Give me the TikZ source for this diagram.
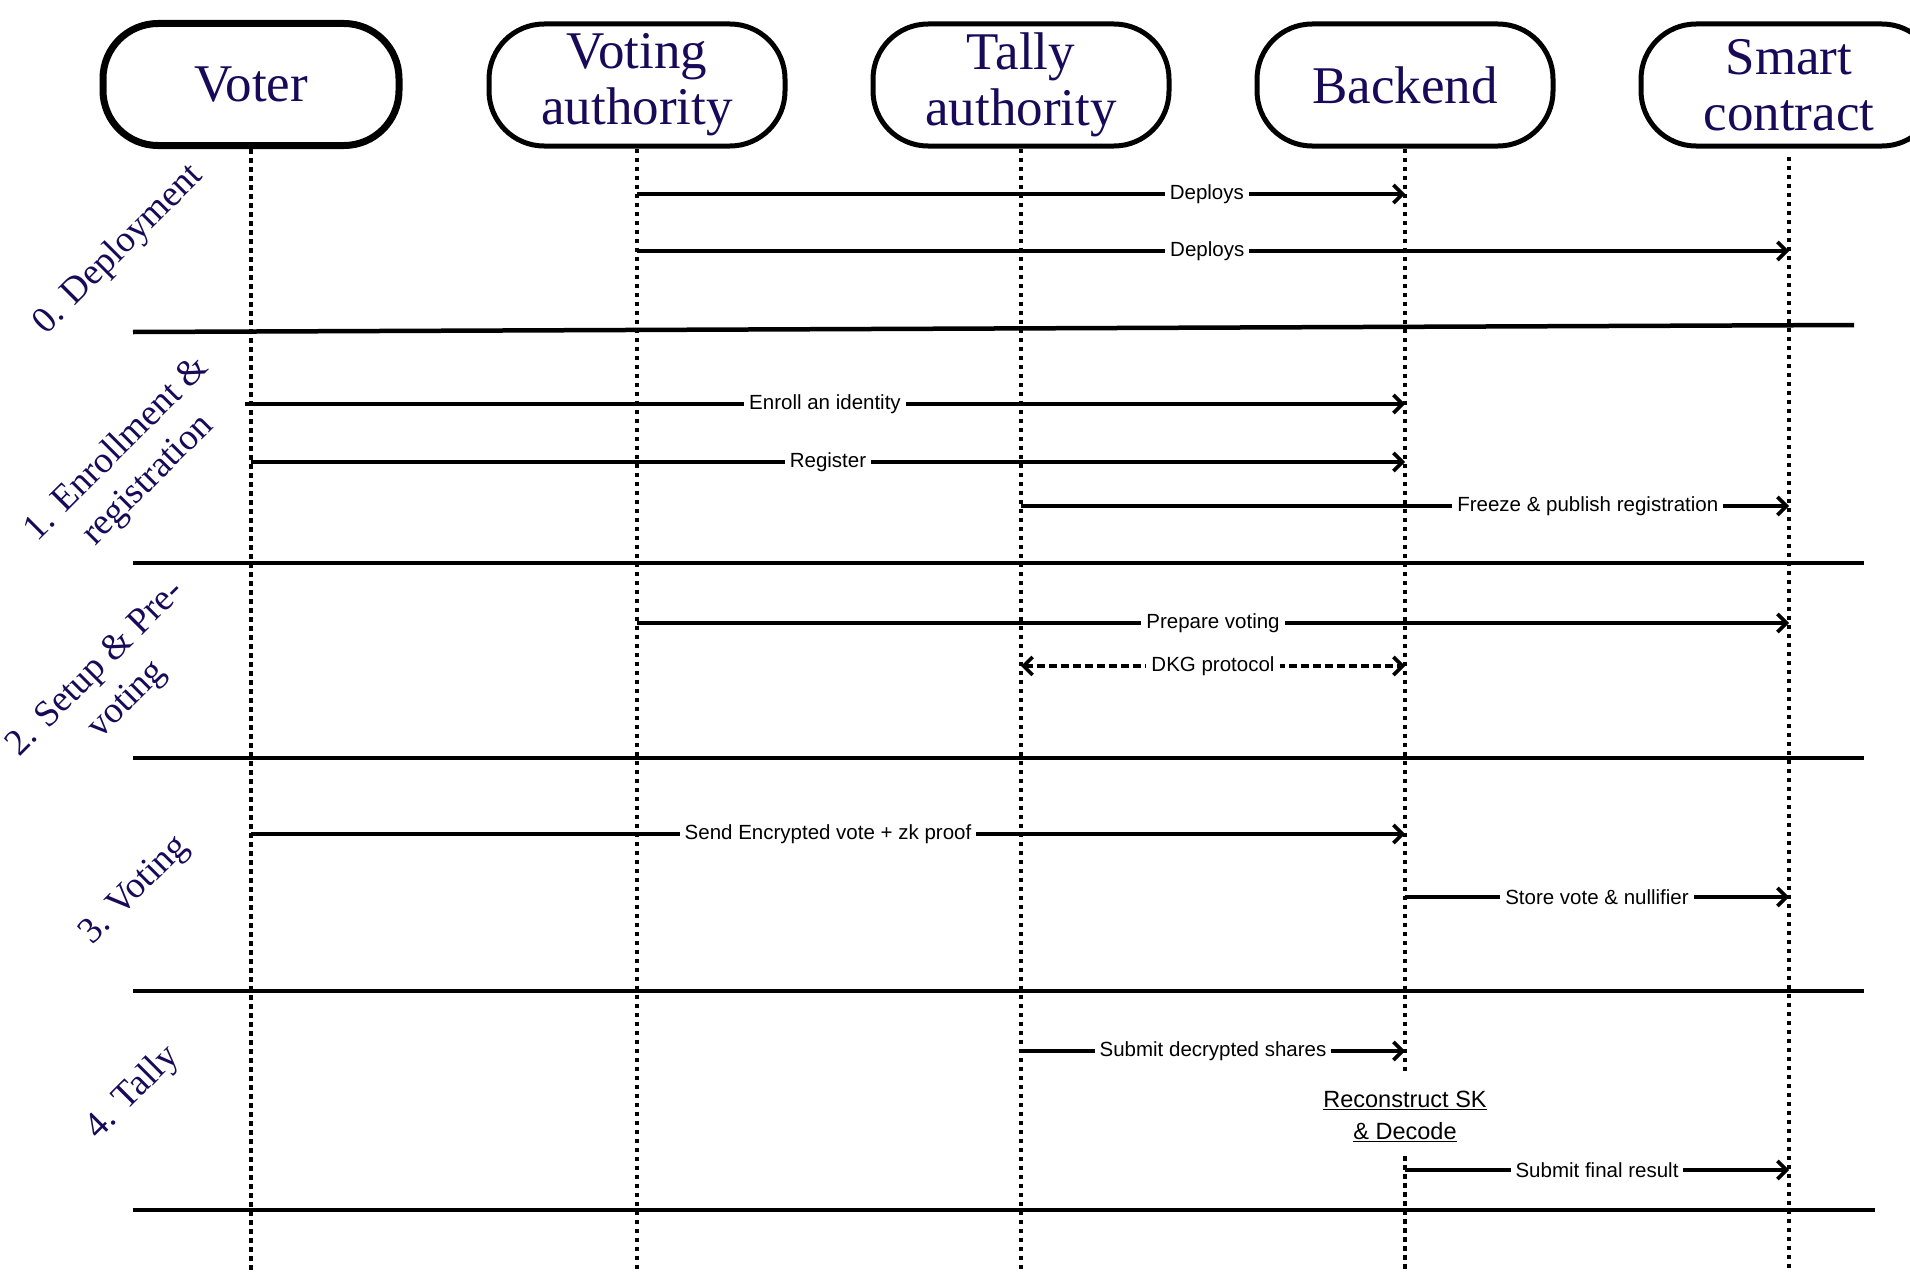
\documentclass[tikz,border=0pt]{standalone}
\usepackage{fontspec}
\setmainfont{Liberation Serif}
\setsansfont{Liberation Sans}
\usetikzlibrary{arrows.meta}
\definecolor{ink}{RGB}{24,10,88}
\tikzset{
 actor/.style={draw=black, fill=white, line width=5pt, rounded corners=55pt, minimum width=296pt, minimum height=122pt, inner sep=0pt, text=ink, font=\fontsize{53}{56}\selectfont, align=center},
 lifeline/.style={line width=3.5pt, dash pattern=on 4.5pt off 4.5pt},
 sepline/.style={line width=4.5pt},
 msg/.style={line width=3.6pt, -{Straight Barb[length=9pt,width=18pt]}},
 lbl/.style={fill=white, inner xsep=5pt, inner ysep=3pt, font=\sffamily\fontsize{20.5}{24}\selectfont, text=black},
 phase/.style={rotate=45, text=ink, font=\fontsize{37}{44}\selectfont, align=center},
}
\begin{document}
\begin{tikzpicture}[x=1pt,y=-1pt]
\useasboundingbox (0,0) rectangle (1910,1271);
\clip (0,0) rectangle (1910,1271);

% actors
\node[actor, line width=7pt] (voter) at (251,84.5) {Voter};
\node[actor] (va) at (637,85) {Voting\\authority};
\node[actor] (ta) at (1021,85) {Tally\\authority};
\node[actor] (be) at (1405,85) {Backend};
\node[actor] (sc) at (1789,85) {Smart\\contract};

% lifelines
\draw[lifeline] (voter.south) -- (voter.south |- 0,1271);
\draw[lifeline] (va.south) -- (va.south |- 0,1271);
\draw[lifeline] (ta.south) -- (ta.south |- 0,1271);
\draw[lifeline] (be.south) -- (be.south |- 0,1072);
\draw[lifeline] (be.south |- 0,1156) -- (be.south |- 0,1271);
\draw[lifeline] ([yshift=-8pt]sc.south) -- (sc.south |- 0,1271);

% phase separators
\draw[sepline] (133,332) -- (1854,325);
\draw[sepline] (133,563) -- (1864,563);
\draw[sepline] (133,758) -- (1864,758);
\draw[sepline] (133,991) -- (1864,991);
\draw[sepline] (133,1210) -- (1875,1210);

% phase labels
\node[phase] (p0) at (119,250) {0. Deployment};
\node[phase] (p1) at (133,465) {1. Enrollment \&\\registration};
\node[phase] (p2) at (112,685) {2. Setup \& Pre-\\voting};
\node[phase] (p3) at (135,891) {3. Voting};
\node[phase] (p4) at (133,1093) {4. Tally};

% messages
\draw[msg] (va.south |- 0,194) -- node[lbl,pos=0.742] {Deploys} (be.south |- 0,194);
\draw[msg] (va.south |- 0,251) -- node[lbl,pos=0.495] {Deploys} (sc.south |- 0,251);
\draw[msg] ([xshift=-6pt]voter.south |- 0,404) -- node[lbl,pos=0.5] {Enroll an identity} (be.south |- 0,404);
\draw[msg] (voter.south |- 0,462) -- node[lbl,pos=0.5] {Register} (be.south |- 0,462);
\draw[msg] (ta.south |- 0,506) -- node[lbl,pos=0.738] {Freeze \& publish registration} (sc.south |- 0,506);
\draw[msg] (va.south |- 0,623) -- node[lbl,pos=0.5] {Prepare voting} (sc.south |- 0,623);
\draw[msg, {Straight Barb[length=9pt,width=18pt]}-{Straight Barb[length=9pt,width=18pt]}, dash pattern=on 8pt off 4pt] (ta.south |- 0,666) -- node[lbl,pos=0.5] {DKG protocol} (be.south |- 0,666);
\draw[msg] (voter.south |- 0,834) -- node[lbl,pos=0.5] {Send Encrypted vote + zk proof} (be.south |- 0,834);
\draw[msg] (be.south |- 0,897) -- node[lbl,pos=0.5] {Store vote \& nullifier} (sc.south |- 0,897);
\draw[msg] (ta.south |- 0,1051) -- node[lbl,pos=0.5] {Submit decrypted shares} (be.south |- 0,1051);
\node[font=\sffamily\fontsize{23.5}{32}\selectfont, align=center] (rec) at (1405,1116) {\underline{Reconstruct SK}\\\underline{\& Decode}};
\draw[msg] (be.south |- 0,1170) -- node[lbl,pos=0.5] {Submit final result} (sc.south |- 0,1170);
\end{tikzpicture}
\end{document}
